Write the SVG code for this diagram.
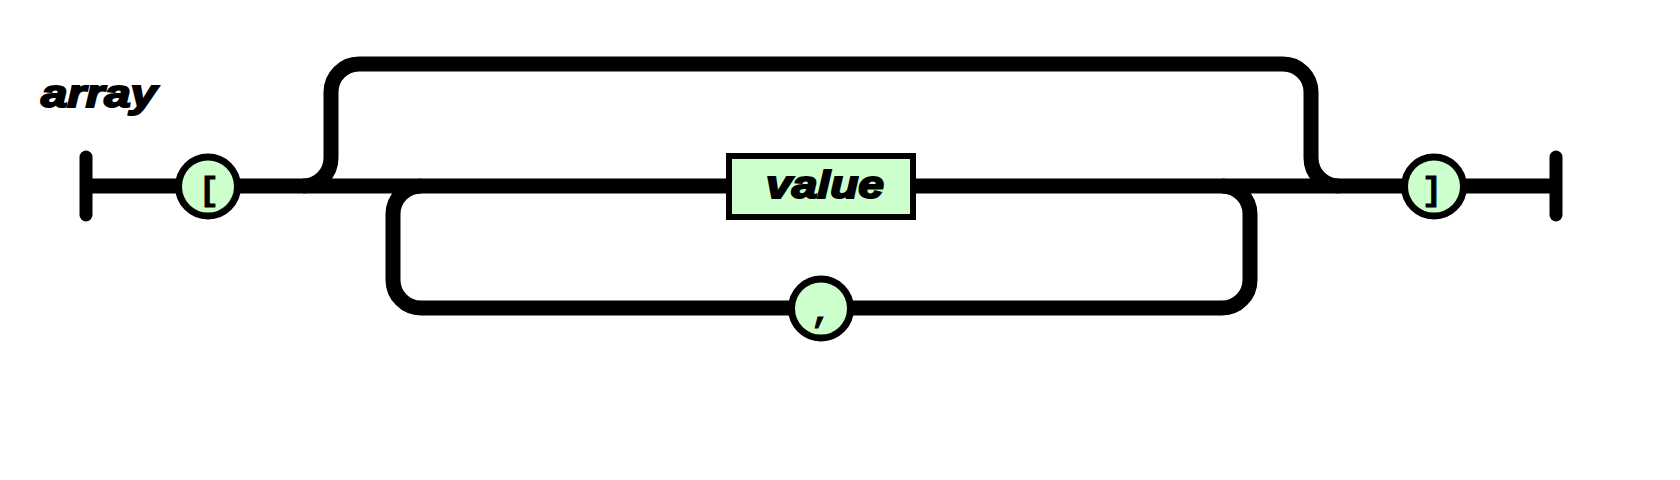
<svg xmlns="http://www.w3.org/2000/svg" width="1680" height="480" viewBox="0 0 1680 480">
<defs>
<style>
.wire{fill:none;stroke:#000;stroke-width:15}
.bar{stroke:#000;stroke-width:13;stroke-linecap:round}
.term{fill:#ccffcc;stroke:#000;stroke-width:7}
.nt{fill:#ccffcc;stroke:#000;stroke-width:6}
.lbl{font-family:"Liberation Sans",Arial,sans-serif;font-weight:bold;font-style:italic;font-size:39px;fill:#000;stroke:#000;stroke-width:2}
.sym{font-family:"Liberation Mono","Courier New",monospace;font-weight:bold;font-size:34px;fill:#000;stroke:#000;stroke-width:0.8;text-anchor:middle}
</style>
</defs>
<rect width="1680" height="480" fill="#fff"/>
<text class="lbl" x="41" y="107" textLength="116" lengthAdjust="spacingAndGlyphs">array</text>
<g id="connectors">
<line class="wire" x1="86" y1="186" x2="1556" y2="186"/>
<path class="wire" d="M 303 186 A 28 28 0 0 0 331 158 L 331 92 A 28 28 0 0 1 359 64 L 1283 64 A 28 28 0 0 1 1311 92 L 1311 158 A 28 28 0 0 0 1339 186"/>
<path class="wire" d="M 421 186 A 28 28 0 0 0 393 214 L 393 280 A 28 28 0 0 0 421 308 L 1222 308 A 28 28 0 0 0 1250 280 L 1250 214 A 28 28 0 0 0 1222 186"/>
</g>
<g id="start"><line class="bar" x1="86" y1="157" x2="86" y2="215"/></g>
<g id="end"><line class="bar" x1="1556" y1="157" x2="1556" y2="215"/></g>
<g id="lbracket">
<circle class="term" cx="208" cy="186.5" r="29.5"/>
<text class="sym" x="209" y="200">[</text>
</g>
<g id="value">
<rect class="nt" x="729" y="156" width="184" height="61"/>
<text class="lbl" x="766" y="198" textLength="118" lengthAdjust="spacingAndGlyphs">value</text>
</g>
<g id="comma">
<circle class="term" cx="821" cy="308.5" r="29.5"/>
<text class="sym" x="821" y="322">,</text>
</g>
<g id="rbracket">
<circle class="term" cx="1434" cy="186.5" r="29.5"/>
<text class="sym" x="1432" y="200">]</text>
</g>
</svg>
